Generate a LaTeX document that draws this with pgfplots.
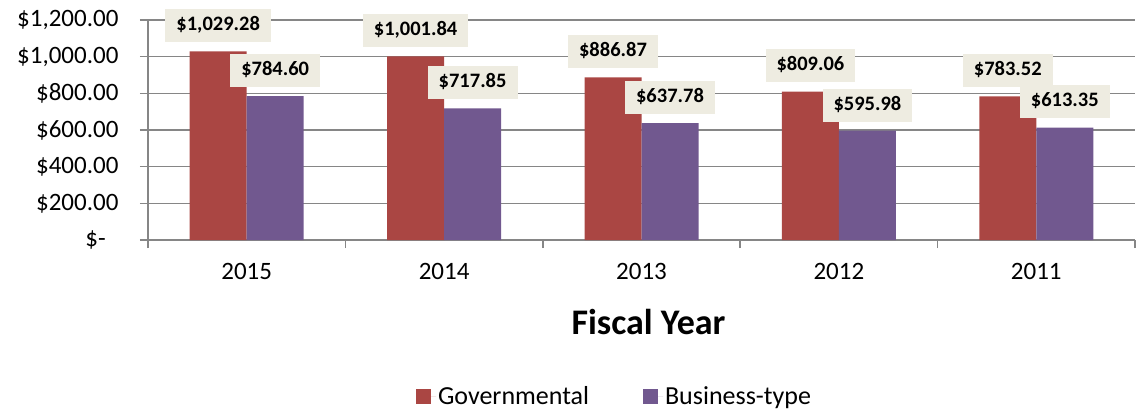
\documentclass[border=0pt]{standalone}
\usepackage{pgfplots}
\pgfplotsset{compat=1.18}
\usepackage{fontspec}
\setmainfont{Carlito}
\definecolor{gov}{HTML}{AA4643}
\definecolor{bus}{HTML}{71588F}
\definecolor{lblbg}{HTML}{EEECE1}
\definecolor{gridgray}{HTML}{868686}

\begin{document}
\begin{tikzpicture}
\path[use as bounding box] (-148pt,-173pt) rectangle (994pt,240pt);
\begin{axis}[
    at={(0pt,0pt)}, anchor=south west,
    width=987pt, height=220pt, scale only axis,
    xmin=-0.5, xmax=4.5, ymin=0, ymax=1200,
    ybar=0pt, bar width=57pt,
    axis x line*=bottom, axis y line*=left,
    axis line style={-, gridgray, line width=1.5pt},
    tick align=outside,
    major tick length=8pt,
    tick style={gridgray, line width=1.5pt},
    xtick={-0.5,0.5,...,4.5}, xticklabels={},
    extra x ticks={0,1,2,3,4},
    extra x tick labels={2015,2014,2013,2012,2011},
    extra x tick style={major tick length=0pt, grid=none,
      xticklabel style={yshift=-20pt}},
    ytick={0,200,...,1200},
    yticklabels={\$-\hphantom{0},\$200.00,\$400.00,\$600.00,\$800.00,{\$1,000.00},{\$1,200.00}},
    yticklabel style={xshift=-18pt},
    ymajorgrids, grid style={gridgray, line width=1.5pt},
    tick label style={font=\fontsize{25}{30}\selectfont},
    xlabel={Fiscal Year},
    xlabel style={font=\bfseries\fontsize{36}{40}\selectfont, at={(axis description cs:0.5,0)}, anchor=center, yshift=-82pt, xshift=7pt},
    legend style={at={(axis description cs:0.5,0)}, anchor=center, yshift=-156pt, xshift=-27pt,
      draw=none, font=\fontsize{26}{30}\selectfont,
      /tikz/every even column/.append style={column sep=52pt}},
    legend columns=2,
    nodes near coords,
    point meta=explicit symbolic,
    every node near coord/.append style={fill=lblbg, text=black,
      font=\bfseries\fontsize{20.5}{24}\selectfont,
      inner xsep=11pt, inner ysep=7.5pt, text height=14pt, text depth=4pt,
      anchor=south, yshift=9pt},
  ]
  \addplot[fill=gov, draw=none,
    legend image code/.code={\fill[gov] (0pt,-7.5pt) rectangle (15pt,7.5pt);
      \path (0pt,0pt) -- (20pt,0pt);}]
    coordinates {
      (0,1029.28) [{\$1,029.28}]
      (1,1001.84) [{\$1,001.84}]
      (2,886.87) [{\$886.87}]
      (3,809.06) [{\$809.06}]
      (4,783.52) [{\$783.52}]
    };
  \addlegendentry{Governmental}
  \addplot[fill=bus, draw=none,
    legend image code/.code={\fill[bus] (0pt,-7.5pt) rectangle (15pt,7.5pt);
      \path (0pt,0pt) -- (20pt,0pt);}]
    coordinates {
      (0,784.60) [{\$784.60}]
      (1,717.85) [{\$717.85}]
      (2,637.78) [{\$637.78}]
      (3,595.98) [{\$595.98}]
      (4,613.35) [{\$613.35}]
    };
  \addlegendentry{Business-type}
\end{axis}
\end{tikzpicture}
\end{document}
